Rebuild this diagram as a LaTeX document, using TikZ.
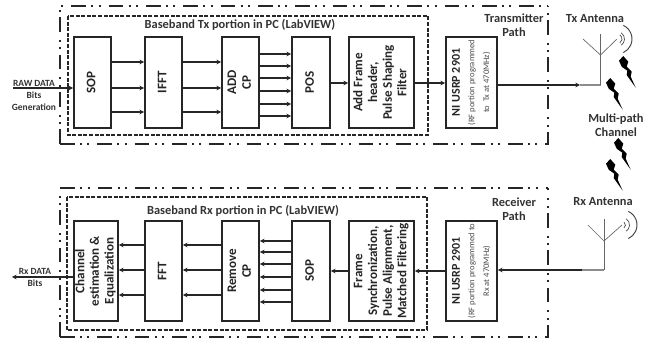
\documentclass[tikz,border=0pt]{standalone}
\usepackage{fontspec}
\setmainfont{Carlito}
\usetikzlibrary{arrows.meta}

\tikzset{
	blockbox/.style={draw=black!85, line width=1.3pt, fill=white, inner sep=0pt, font=\bfseries\fontsize{9.8}{11}\selectfont, text=black!85},
	wire/.style={line width=0.9pt, draw=black!85, -{Stealth[length=3.5pt,width=3.5pt]}},
	outerpath/.style={line width=1.2pt, draw=black!85, dash pattern=on 11pt off 4pt on 1.5pt off 4pt on 1.5pt off 6pt},
	innerpath/.style={line width=0.8pt, draw=black!85, dash pattern=on 3pt off 1.2pt},
	lab/.style={inner sep=0pt, font=\bfseries\fontsize{9.3}{10.5}\selectfont, align=center, text=black!80},
	smalllab/.style={lab, font=\bfseries\fontsize{7.1}{9}\selectfont},
	mast/.style={line width=0.5pt, draw=black!60},
	feed/.style={line width=0.9pt, draw=black!45},
	wave/.style={line width=0.5pt, draw=black!75}
}

% Block mit gedrehtem Text, Ecken (x1,y1) und (x2,y2)
\newcommand{\blockat}[6]{\node[blockbox, minimum width={(#4-#2)*0.75pt}, minimum height={(#5-#3)*0.75pt}] (#1) at ({(#2+#4)/2},{(#3+#5)/2}) {\rotatebox{90}{\begin{tabular}{@{}c@{}}#6\end{tabular}}};}
% Blitz, obere linke Ecke bei (x,y)
\newcommand{\boltat}[2]{\fill[black, shift={(#1,#2)}] (4.3,0) -- (9.3,5.7) -- (7.7,10.7) -- (12.7,15.7) -- (11.7,20.7) -- (16.7,31.7) -- (7.7,19) -- (8.3,14.7) -- (2.7,10.7) -- (0,4.7) -- cycle;}
% Schrift im USRP Block
\newcommand{\usrpname}{{\fontsize{9}{9}\selectfont NI USRP 2901}}
\newcommand{\rfnote}[1]{{\fontsize{6.4}{7}\selectfont\mdseries\color{black!70} #1}}

\begin{document}
\begin{tikzpicture}[x=0.75pt, y=-0.75pt]
	\useasboundingbox (0,0) rectangle (658,338);

	% Zeichnet die Rahmen oben
	\draw[outerpath] (60,144) -- (60,6) -- (548,6);
	\draw[outerpath] (60,144) -- (548,144) -- (548,6);
	\draw[innerpath] (68,16) rectangle (428,135);

	% Zeichnet die Rahmen unten
	\draw[outerpath] (60,337) -- (60,188) -- (548,188);
	\draw[outerpath] (60,337) -- (548,337) -- (548,188);
	\draw[innerpath] (67,197) rectangle (427,330);

	% Bloecke Tx
	\blockat{sopTx}{74}{37}{111}{128}{SOP}
	\blockat{ifftTx}{145}{37}{182}{128}{IFFT}
	\blockat{addTx}{222}{37}{259}{128}{ADD\\CP}
	\blockat{posTx}{292}{37}{330}{128}{POS}
	\blockat{frameTx}{349}{37}{414}{128}{Add Frame\\header,\\Pulse Shaping\\Filter}
	\blockat{usrpTx}{446}{37}{497}{128}{\usrpname\\\rfnote{(RF portion programmed}\\\rfnote{to\ \ Tx at 470MHz)}}

	% Bloecke Rx
	\blockat{chanRx}{74}{221}{118}{321}{Channel\\estimation \&\\Equalization}
	\blockat{fftRx}{145}{221}{182}{321}{FFT}
	\blockat{remRx}{222}{221}{259}{321}{Remove\\CP}
	\blockat{sopRx}{292}{221}{330}{321}{SOP}
	\blockat{frameRx}{349}{221}{414}{321}{Frame\\Synchronization,\\Pulse Alignment,\\Matched Filtering}
	\blockat{usrpRx}{446}{221}{497}{321}{\usrpname\\\rfnote{(RF portion programmed to}\\\rfnote{Rx at 470MHz)}}

	% Freie Enden und Antennen
	\coordinate (rawIn) at (13,88);
	\coordinate (rxOut) at (12,277);
	\coordinate (txFoot) at (600.5,85);
	\coordinate (txJoint) at (600.5,55);
	\coordinate (txFeed) at (580,85);
	\coordinate (rxFoot) at (604,270);
	\coordinate (rxJoint) at (604,241);
	\coordinate (rxFeed) at (582,270);

	% Pfeile Tx
	\draw[wire] (rawIn) -- (sopTx.west |- rawIn);
	\foreach \y in {62,88,112} {
		\draw[wire] (sopTx.east |- 0,\y) -- (ifftTx.west |- 0,\y);
		\draw[wire] (ifftTx.east |- 0,\y) -- (addTx.west |- 0,\y);
	}
	\foreach \y in {54,66,78,91,104,116}
		\draw[wire] (addTx.east |- 0,\y) -- (posTx.west |- 0,\y);
	\draw[wire] (posTx.east |- 0,83) -- (frameTx.west |- 0,83);
	\draw[wire] (frameTx.east |- 0,83) -- (usrpTx.west |- 0,83);
	\draw[feed] (txFeed) -- (txFoot);
	\draw[wire] (usrpTx.east |- txFeed) -- (txFeed);

	% Pfeile Rx
	\draw[wire] (chanRx.west |- rxOut) -- (rxOut);
	\foreach \y in {245,270,295} {
		\draw[wire] (remRx.west |- 0,\y) -- (fftRx.east |- 0,\y);
		\draw[wire] (fftRx.west |- 0,\y) -- (chanRx.east |- 0,\y);
	}
	\foreach \y in {241,252,264,277,290,302}
		\draw[wire] (sopRx.west |- 0,\y) -- (remRx.east |- 0,\y);
	\draw[wire] (frameRx.west |- 0,271) -- (sopRx.east |- 0,271);
	\draw[wire] (usrpRx.west |- 0,271) -- (frameRx.east |- 0,271);
	\draw[feed] (rxFeed) -- (rxFoot);
	\draw[wire] (rxFeed) -- (usrpRx.east |- rxFeed);

	% Zeichnet Tx Antenne
	\draw[mast] (txFoot) -- (600.5,34);
	\draw[mast] (583,39) -- (txJoint) -- (617,39);
	\draw[wave] (617,39) ++(-55:5) arc (-55:55:5);
	\draw[wave] (617,39) ++(-55:7.5) arc (-55:55:7.5);
	\draw[wave, line width=0.7pt] (617,39) ++(-65:15) arc (-65:65:15);

	% Zeichnet Rx Antenne
	\draw[mast] (rxFoot) -- (604,219);
	\draw[mast] (588,225) -- (rxJoint) -- (622,225);
	\draw[wave] (622,225) ++(-55:3.5) arc (-55:55:3.5);
	\draw[wave] (622,225) ++(-55:7.5) arc (-55:55:7.5);
	\draw[wave, line width=0.7pt] (622,225) ++(-65:15) arc (-65:65:15);

	% Blitze
	\boltat{619}{56}
	\boltat{606}{78}
	\boltat{614}{138}
	\boltat{606}{159}

	% Beschriftung
	\node[lab] (basebandTx) at (240,25) {Baseband Tx portion in PC (LabVIEW)};
	\node[lab] (basebandRx) at (243,211) {Baseband Rx portion in PC (LabVIEW)};
	\node[lab] (txPath) at (514,25) {Transmitter\\Path};
	\node[lab] (rxPath) at (514,209) {Receiver\\Path};
	\node[lab] (txAnt) at (595,19) {Tx Antenna};
	\node[lab] (rxAnt) at (603,202) {Rx Antenna};
	\node[lab] (channelLab) at (616,125) {Multi-path\\Channel};
	\node[smalllab] (rawLab) at (34,95) {RAW DATA\\Bits\\Generation};
	\node[smalllab] (rxLab) at (35,277.5) {Rx DATA\\Bits};
\end{tikzpicture}
\end{document}
